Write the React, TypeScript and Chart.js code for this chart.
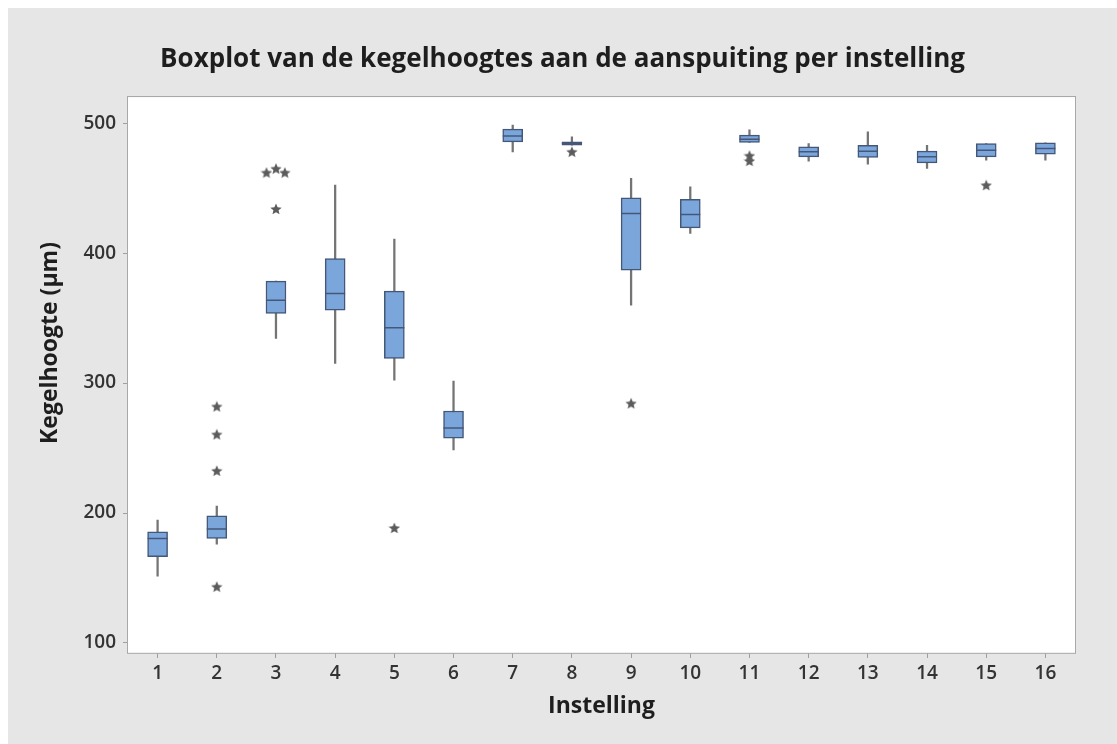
import React, { useEffect, useRef } from 'react';
import { Chart, registerables } from 'chart.js';

Chart.register(...registerables);

// Instellingen (settings) on the x axis
const categories = ['1', '2', '3', '4', '5', '6', '7', '8', '9', '10', '11', '12', '13', '14', '15', '16'];

// Five-number summaries per setting (µm)
const whiskerLow = [151.5, 176, 334.4, 315.2, 302.3, 248.5, 477.9, 483, 360, 415.2, 485.2, 470.8, 468.5, 465.2, 471.5, 471.5];
const q1 = [166.4, 180.5, 353.6, 356.2, 319, 257.7, 485.6, 483, 386.9, 419.5, 485.2, 474.1, 473.6, 469.5, 474.1, 476.2];
const medians = [180.5, 187.7, 363.8, 369, 342.5, 265.4, 490.2, 484.5, 430.5, 429.8, 487.7, 478, 478.5, 474.1, 479.2, 480.5];
const q3 = [185.6, 197.9, 378.5, 395.9, 370.8, 278.5, 495.4, 485.6, 442.5, 441.5, 490.8, 481.8, 483, 478.5, 484.4, 484.9];
const whiskerHigh = [194.6, 205.4, 378.5, 452.3, 410.8, 301.5, 498.5, 489.5, 457.5, 451, 494.8, 484.4, 493.3, 483, 484.4, 484.9];

// Outliers: setting position (with small side-by-side offsets for ties) and value
const outlierX = [2, 2, 2, 2, 2.84, 3, 3.15, 3, 5, 8, 9, 11, 11, 15];
const outlierY = [282, 260.5, 232.5, 143.3, 462, 465, 462, 434, 188.5, 478, 284.4, 475, 471, 452.3];

const yTicks = [100, 200, 300, 400, 500];

const FONT = '"Open Sans", "DejaVu Sans", sans-serif';
const BOX_FILL = '#7ba6dc';
const BOX_EDGE = '#445777';
const WHISKER = '#747474';
const STAR = '#5c5c5c';

function makeStar(size: number, color: string): HTMLCanvasElement {
  const c = document.createElement('canvas');
  c.width = size;
  c.height = size;
  const ctx = c.getContext('2d')!;
  const cx = size / 2;
  const cy = size / 2 + 0.5;
  const R = size / 2;
  const r = R * 0.45;
  ctx.beginPath();
  for (let i = 0; i < 10; i++) {
    const a = -Math.PI / 2 + (i * Math.PI) / 5;
    const rad = i % 2 === 0 ? R : r;
    ctx.lineTo(cx + rad * Math.cos(a), cy + rad * Math.sin(a));
  }
  ctx.closePath();
  ctx.fillStyle = color;
  ctx.fill();
  return c;
}

// Grey backdrop, white plot area with thin frame, rotated y-axis title
const framePlugin = {
  id: 'frame',
  beforeDraw(chart: any) {
    const { ctx, chartArea } = chart;
    const { left, top, right, bottom } = chartArea;
    ctx.save();
    ctx.fillStyle = '#e6e6e6';
    ctx.fillRect(0, 0, chart.width, chart.height);
    ctx.fillStyle = '#ffffff';
    ctx.fillRect(left, top, right - left, bottom - top);
    ctx.restore();
  },
  afterDraw(chart: any) {
    const { ctx, chartArea } = chart;
    const { left, top, right, bottom } = chartArea;
    ctx.save();
    ctx.strokeStyle = '#a8a8a8';
    ctx.lineWidth = 1;
    ctx.strokeRect(Math.round(left) - 0.5, Math.round(top) - 0.5, right - left + 1, bottom - top + 1);
    ctx.translate(42, 335);
    ctx.rotate(-Math.PI / 2);
    ctx.fillStyle = '#1e1e1e';
    ctx.font = `bold 23px ${FONT}`;
    ctx.textAlign = 'center';
    ctx.textBaseline = 'middle';
    ctx.fillText('Kegelhoogte (µm)', 0, 0);
    ctx.restore();
  },
};

export default function App() {
  const canvasRef = useRef<HTMLCanvasElement | null>(null);

  useEffect(() => {
    if (!canvasRef.current) return;
    const star = makeStar(12, STAR);
    const pos = categories.map((_, i) => i + 1);
    const chart = new Chart(canvasRef.current, {
      type: 'bar',
      data: {
        datasets: [
          {
            type: 'line',
            label: 'Mediaan',
            data: pos.map((x, i) => ({ x, y: medians[i] })),
            showLine: false,
            pointStyle: 'line',
            pointRadius: 10,
            pointBorderWidth: 1.5,
            pointBorderColor: BOX_EDGE,
            pointBackgroundColor: BOX_EDGE,
            order: 0,
          } as any,
          {
            type: 'bar',
            label: 'Kwartielen',
            data: pos.map((x, i) => ({ x, y: [q1[i], q3[i]] })),
            backgroundColor: BOX_FILL,
            borderColor: BOX_EDGE,
            borderWidth: 1.5,
            borderSkipped: false,
            barThickness: 20,
            grouped: false,
            order: 1,
          } as any,
          {
            type: 'bar',
            label: 'Snorharen',
            data: pos.map((x, i) => ({ x, y: [whiskerLow[i], whiskerHigh[i]] })),
            backgroundColor: WHISKER,
            borderWidth: 0,
            barThickness: 1.6,
            grouped: false,
            order: 2,
          } as any,
          {
            type: 'line',
            label: 'Uitschieters',
            data: outlierX.map((x, i) => ({ x, y: outlierY[i] })),
            showLine: false,
            pointStyle: star,
            pointRadius: 6,
            order: 0,
          } as any,
        ],
      },
      options: {
        animation: false,
        responsive: true,
        maintainAspectRatio: false,
        events: [],
        layout: { padding: 0 },
        plugins: {
          legend: { display: false },
          tooltip: { enabled: false },
          title: {
            display: true,
            text: 'Boxplot van de kegelhoogtes aan de aanspuiting per instelling',
            color: '#1e1e1e',
            font: { family: FONT, size: 26, weight: 'bold', lineHeight: 1.2 },
            padding: { top: 36, bottom: 22 },
          },
        },
        scales: {
          x: {
            type: 'linear',
            min: 0.5,
            max: 16.5,
            offset: false,
            grid: { display: true, drawOnChartArea: false, drawTicks: true, tickLength: 5, color: '#a0a0a0', offset: false },
            border: { display: false },
            ticks: {
              color: '#333333',
              font: { family: FONT, size: 19, weight: 600 },
              padding: 4,
              maxRotation: 0,
              autoSkip: false,
              callback: (v: any) => categories[Number(v) - 1] ?? '',
            },
            title: {
              display: true,
              text: 'Instelling',
              color: '#1e1e1e',
              font: { family: FONT, size: 23, weight: 'bold', lineHeight: 1.2 },
              padding: { top: 0, bottom: 24 },
            },
            afterBuildTicks: (s: any) => {
              s.ticks = pos.map((v) => ({ value: v }));
            },
            afterFit: (s: any) => {
              s.height = 91;
            },
          },
          y: {
            min: 92.3,
            max: 520,
            grid: { display: true, drawOnChartArea: false, drawTicks: true, tickLength: 5, color: '#a0a0a0' },
            border: { display: false },
            ticks: { color: '#333333', font: { family: FONT, size: 19, weight: 600 }, padding: 7 },
            afterBuildTicks: (s: any) => {
              s.ticks = yTicks.map((v) => ({ value: v }));
            },
            afterFit: (s: any) => {
              s.width = 120;
            },
          },
          // blank margin on the right of the plot area
          yr: {
            type: 'linear',
            position: 'right',
            display: true,
            grid: { display: false },
            border: { display: false },
            ticks: { display: false },
            afterFit: (s: any) => {
              s.width = 42;
            },
          },
        },
      } as any,
      plugins: [framePlugin],
    });
    return () => chart.destroy();
  }, []);

  return (
    <div style={{ position: 'fixed', left: 8, top: 8, width: 1109, height: 736 }}>
      <canvas ref={canvasRef} />
    </div>
  );
}
